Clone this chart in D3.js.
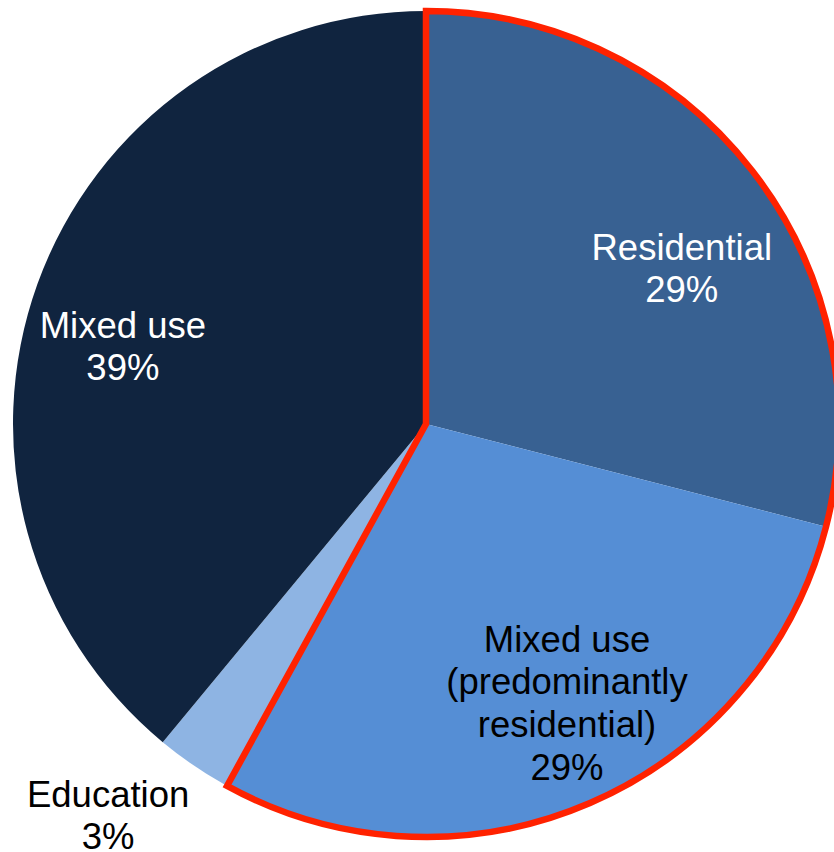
<!DOCTYPE html>
<html>
<head>
<meta charset="utf-8">
<script src="https://cdn.jsdelivr.net/npm/d3@7"></script>
<style>
  html, body { margin: 0; padding: 0; background: #fff; }
  svg { display: block; }
</style>
</head>
<body>
<svg id="chart"></svg>
<script>
// data
const categories = ["Residential", "Mixed use (predominantly residential)", "Education", "Mixed use"];
const shares = [29, 29, 3, 39];
const labelLines = [
  ["Residential", "29%"],
  ["Mixed use", "(predominantly", "residential)", "29%"],
  ["Education", "3%"],
  ["Mixed use", "39%"]
];
const highlighted = ["Residential", "Mixed use (predominantly residential)"];

const width = 834, height = 852;
const cx = 426, cy = 424, radius = 413;

const colors = ["#386192", "#558ed5", "#8eb4e3", "#10243f"];
const textColors = ["#fff", "#000", "#000", "#fff"];

// label placement: angle (deg, clockwise from top) and distance from centre
const labelPlace = [
  { angle: 60.8, dist: 293 },
  { angle: 154.2, dist: 324 },
  { angle: 218.2, dist: 514 },
  { angle: 282.1, dist: 310 }
];

const svg = d3.select("#chart")
  .attr("width", width)
  .attr("height", height)
  .style("font", "36.5px 'Liberation Sans', Arial, sans-serif");

const data = categories.map((c, i) => ({ key: c, value: shares[i], i }));

const pie = d3.pie().sort(null).value(d => d.value);
const arcs = pie(data);

const arc = d3.arc().innerRadius(0).outerRadius(radius);

const g = svg.append("g").attr("transform", `translate(${cx},${cy})`);

g.selectAll("path.slice")
  .data(arcs)
  .join("path")
  .attr("class", "slice")
  .attr("fill", d => colors[d.data.i])
  .attr("d", arc);

// red outline around the residential slices
const hi = arcs.filter(d => highlighted.includes(d.data.key));
g.append("path")
  .attr("fill", "none")
  .attr("stroke", "#ff2200")
  .attr("stroke-width", 6.5)
  .attr("stroke-linejoin", "miter")
  .attr("d", arc({
    startAngle: d3.min(hi, d => d.startAngle),
    endAngle: d3.max(hi, d => d.endAngle)
  }));

// labels
const lineHeight = 42.7;
const labels = g.selectAll("text.label")
  .data(arcs)
  .join("text")
  .attr("class", "label")
  .attr("text-anchor", "middle")
  .attr("fill", d => textColors[d.data.i])
  .attr("transform", d => {
    const p = labelPlace[d.data.i];
    const a = p.angle * Math.PI / 180;
    return `translate(${p.dist * Math.sin(a)},${-p.dist * Math.cos(a)})`;
  });

labels.each(function(d) {
  const lines = labelLines[d.data.i];
  d3.select(this).selectAll("tspan")
    .data(lines)
    .join("tspan")
    .attr("x", 0)
    .attr("y", (t, k) => (k - (lines.length - 1) / 2) * lineHeight)
    .text(t => t);
});
</script>
</body>
</html>
